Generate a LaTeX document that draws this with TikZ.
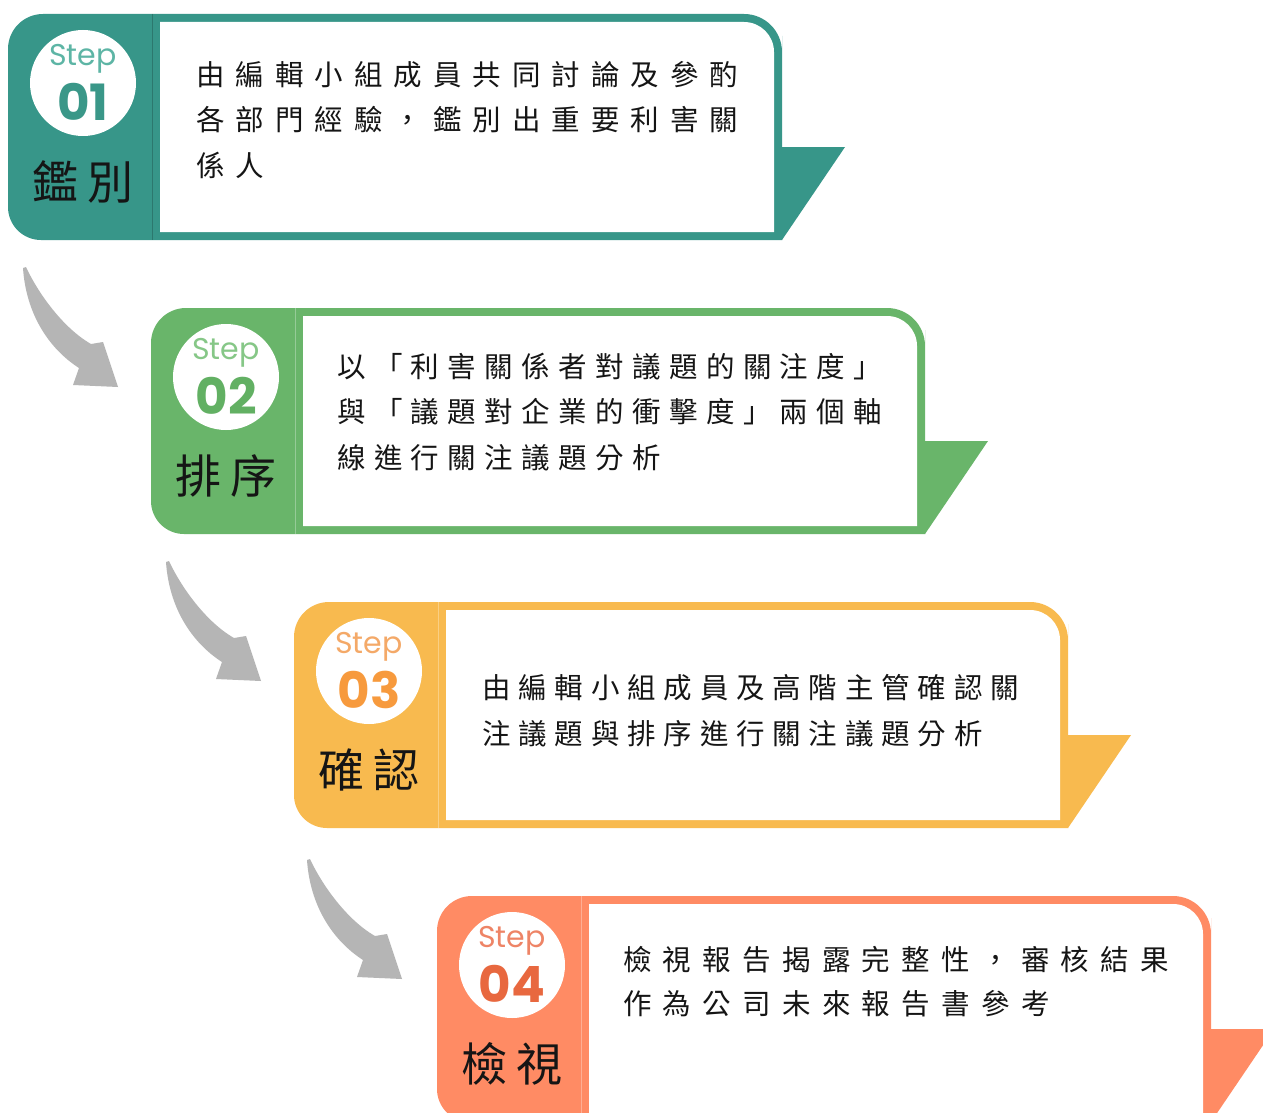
\documentclass[tikz,border=0pt]{standalone}
\usepackage{fontspec}
\newfontfamily\cjk{Noto Sans CJK TC}
\newfontfamily\stepfont{Poppins}
\definecolor{tealM}{HTML}{379689}
\definecolor{tealL}{HTML}{5DB5A5}
\definecolor{tealN}{HTML}{3A9788}
\definecolor{greenM}{HTML}{69B56A}
\definecolor{greenL}{HTML}{86C787}
\definecolor{greenN}{HTML}{62B063}
\definecolor{yelM}{HTML}{F8BA4F}
\definecolor{yelL}{HTML}{F4A968}
\definecolor{yelN}{HTML}{F79A3D}
\definecolor{salM}{HTML}{FF8B64}
\definecolor{salL}{HTML}{EE8466}
\definecolor{salN}{HTML}{E8683F}
\definecolor{arrowgray}{HTML}{B5B5B5}
\definecolor{ink}{HTML}{151515}
\ExplSyntaxOn
\NewDocumentCommand\spread{mm}{\tl_map_inline:nn {#2}{\makebox[#1][l]{##1}}}
\ExplSyntaxOff
\tikzset{
  bodytext/.style={anchor=west, inner sep=0pt, text=ink, font=\cjk\fontsize{28.5}{28.5}\selectfont},
  headtext/.style={inner sep=0pt, text=ink, font=\cjk\fontsize{46}{46}\selectfont},
  steplabel/.style={inner sep=0pt, font=\stepfont\fontsize{30}{30}\selectfont},
  numlabel/.style={inner sep=0pt, font=\stepfont\bfseries\fontsize{50}{50}\selectfont},
  stepcircle/.style={circle, fill=white, minimum size=106pt, inner sep=0pt},
}
% #1 ox, #2 oy, #3 main, #4 light, #5 number colour, #6 number, #7 heading, #8 divider colour
\newcommand\stepblock[8]{%
\begin{scope}[shift={(#1,#2)}]
  \fill[#3] (0,113) [rounded corners=35pt] -- (0,0) -- (387,0) [rounded corners=38pt] -- (774,0) -- (774,60) [sharp corners] -- (774,226) -- (387,226) [rounded corners=33pt] -- (0,226) -- (0,113) -- cycle;
  \fill[#3] (774,133) -- (837,133) -- (774,226) -- cycle;
  \fill[white] (152,8) -- (400,8) [rounded corners=30pt] -- (766,8) -- (766,100) [sharp corners] -- (766,218) -- (152,218) -- cycle;
  \draw[#8, line width=0.8pt] (144,0) -- (144,226);
  \node[stepcircle] (circ#6) at (75,69) {};
  \node[steplabel, text=#4] (step#6) at (75,45) {Step};
  \node[numlabel, text=#5] (num#6) at (75,88) {#6};
  \node[headtext] (head#6) at (75,168) {#7};
\end{scope}}
\newcommand\grayarrow[3]{%
\begin{scope}[shift={(#1,#2)}]
  \coordinate (#3) at (0,0);
  \fill[arrowgray] (#3) -- (3,-1) .. controls (15,25) and (40,60) .. (68,76) -- (80,74) -- (95,119) -- (50,117) -- (56,100) .. controls (25,80) and (3,45) .. (#3) -- cycle;
\end{scope}}
\begin{document}
\begin{tikzpicture}[x=1pt, y=-1pt]
\useasboundingbox (0,0) rectangle (1263,1113);
\clip (0,0) rectangle (1263,1113);
\fill[white] (0,0) rectangle (1263,1113);

\stepblock{8}{14}{tealM}{tealL}{tealN}{01}{鑑\hspace{10pt}別}{tealM!80!black}
\stepblock{151}{308}{greenM}{greenL}{greenN}{02}{排\hspace{10pt}序}{greenM!70!white}
\stepblock{294}{602}{yelM}{yelL}{yelN}{03}{確\hspace{10pt}認}{yelM!70!white}
\stepblock{437}{896}{salM}{salL}{salN}{04}{檢\hspace{10pt}視}{salM!70!white}

\begin{scope}[shift={(8,14)}]
  \node[bodytext] (t1a) at (188,61) {\spread{39.5pt}{由編輯小組成員共同討論及參酌}};
  \node[bodytext] (t1b) at (188,106) {\spread{39.5pt}{各部門經驗，鑑別出重要利害關}};
  \node[bodytext] (t1c) at (188,151) {\spread{39.5pt}{係人}};
\end{scope}
\begin{scope}[shift={(151,308)}]
  \node[bodytext] (t2a) at (186,59) {\spread{36.9pt}{以「利害關係者對議題的關注度」}};
  \node[bodytext] (t2b) at (186,104) {\spread{36.9pt}{與「議題對企業的衝擊度」兩個軸}};
  \node[bodytext] (t2c) at (186,150) {\spread{36.9pt}{線進行關注議題分析}};
\end{scope}
\begin{scope}[shift={(294,602)}]
  \node[bodytext] (t3a) at (188,86) {\spread{36.3pt}{由編輯小組成員及高階主管確認關}};
  \node[bodytext] (t3b) at (188,132) {\spread{36.3pt}{注議題與排序進行關注議題分析}};
\end{scope}
\begin{scope}[shift={(437,896)}]
  \node[bodytext] (t4a) at (186,64) {\spread{39.8pt}{檢視報告揭露完整性，審核結果}};
  \node[bodytext] (t4b) at (186,108) {\spread{39.8pt}{作為公司未來報告書參考}};
\end{scope}

\grayarrow{23}{268}{a1}
\grayarrow{166}{562}{a2}
\grayarrow{307}{860}{a3}
\end{tikzpicture}
\end{document}
